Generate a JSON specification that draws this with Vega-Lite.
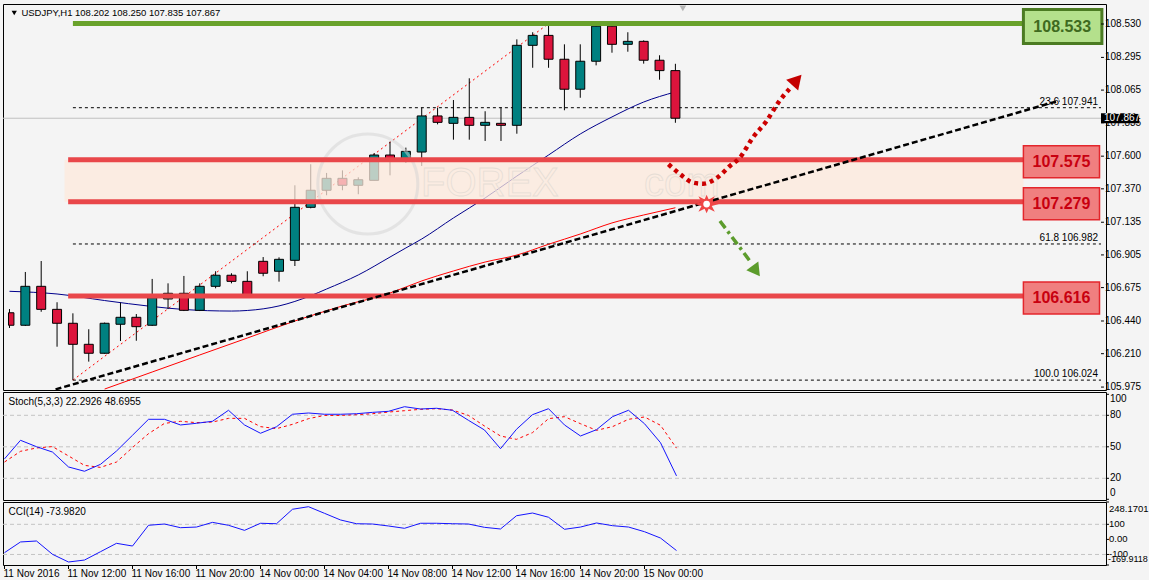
{
  "$schema": "https://vega.github.io/schema/vega-lite/v6.json",
  "background": "#f4f4f4",
  "padding": {"left": 2, "top": 3, "right": 0, "bottom": 0},
  "spacing": 2,
  "bounds": "flush",
  "resolve": {"scale": {"x": "independent", "y": "independent"}},
  "config": {
    "font": "Liberation Sans",
    "view": {"stroke": "#000000", "strokeWidth": 1, "fill": "#f4f4f4"}
  },
  "datasets": {
    "ohlc": [
      {"k":0,"o":106.498,"h":106.524,"l":106.391,"c":106.410},
      {"k":1,"o":106.410,"h":106.785,"l":106.405,"c":106.684},
      {"k":2,"o":106.684,"h":106.862,"l":106.505,"c":106.522},
      {"k":3,"o":106.522,"h":106.572,"l":106.259,"c":106.424},
      {"k":4,"o":106.424,"h":106.494,"l":106.024,"c":106.276},
      {"k":5,"o":106.276,"h":106.382,"l":106.154,"c":106.213},
      {"k":6,"o":106.213,"h":106.429,"l":106.210,"c":106.424},
      {"k":7,"o":106.417,"h":106.569,"l":106.299,"c":106.466},
      {"k":8,"o":106.466,"h":106.489,"l":106.301,"c":106.400},
      {"k":9,"o":106.410,"h":106.736,"l":106.405,"c":106.604},
      {"k":10,"o":106.595,"h":106.705,"l":106.524,"c":106.635},
      {"k":11,"o":106.635,"h":106.757,"l":106.510,"c":106.515},
      {"k":12,"o":106.515,"h":106.705,"l":106.510,"c":106.684},
      {"k":13,"o":106.684,"h":106.790,"l":106.670,"c":106.762},
      {"k":14,"o":106.762,"h":106.776,"l":106.705,"c":106.719},
      {"k":15,"o":106.719,"h":106.790,"l":106.612,"c":106.616},
      {"k":16,"o":106.860,"h":106.890,"l":106.755,"c":106.776},
      {"k":17,"o":106.790,"h":106.888,"l":106.717,"c":106.874},
      {"k":18,"o":106.867,"h":107.395,"l":106.827,"c":107.240},
      {"k":19,"o":107.240,"h":107.543,"l":107.233,"c":107.360},
      {"k":20,"o":107.360,"h":107.482,"l":107.325,"c":107.444},
      {"k":21,"o":107.444,"h":107.500,"l":107.360,"c":107.395},
      {"k":22,"o":107.395,"h":107.451,"l":107.332,"c":107.434},
      {"k":23,"o":107.430,"h":107.622,"l":107.430,"c":107.608},
      {"k":24,"o":107.608,"h":107.702,"l":107.465,"c":107.578},
      {"k":25,"o":107.564,"h":107.660,"l":107.552,"c":107.634},
      {"k":26,"o":107.629,"h":107.941,"l":107.531,"c":107.883},
      {"k":27,"o":107.883,"h":107.941,"l":107.824,"c":107.838},
      {"k":28,"o":107.831,"h":107.995,"l":107.716,"c":107.873},
      {"k":29,"o":107.873,"h":108.148,"l":107.716,"c":107.817},
      {"k":30,"o":107.817,"h":107.916,"l":107.707,"c":107.838},
      {"k":31,"o":107.831,"h":107.944,"l":107.707,"c":107.817},
      {"k":32,"o":107.817,"h":108.422,"l":107.758,"c":108.380},
      {"k":33,"o":108.380,"h":108.472,"l":108.222,"c":108.450},
      {"k":34,"o":108.450,"h":108.533,"l":108.222,"c":108.282},
      {"k":35,"o":108.282,"h":108.387,"l":107.923,"c":108.071},
      {"k":36,"o":108.071,"h":108.387,"l":108.011,"c":108.268},
      {"k":37,"o":108.268,"h":108.525,"l":108.239,"c":108.515},
      {"k":38,"o":108.515,"h":108.525,"l":108.328,"c":108.387},
      {"k":39,"o":108.387,"h":108.472,"l":108.335,"c":108.408},
      {"k":40,"o":108.408,"h":108.415,"l":108.251,"c":108.275},
      {"k":41,"o":108.275,"h":108.310,"l":108.138,"c":108.202},
      {"k":42,"o":108.202,"h":108.250,"l":107.835,"c":107.867}
    ],
    "maBlue": [
      {"k":0,"p":106.649},{"k":3,"p":106.630},{"k":6,"p":106.584},{"k":9,"p":106.542},{"k":11,"p":106.521},
      {"k":14,"p":106.510},{"k":15,"p":106.514},{"k":17,"p":106.546},{"k":19,"p":106.618},{"k":20,"p":106.665},
      {"k":22,"p":106.764},{"k":24,"p":106.890},{"k":25,"p":106.954},{"k":26,"p":107.017},{"k":28,"p":107.165},
      {"k":30,"p":107.306},{"k":32,"p":107.460},{"k":34,"p":107.608},{"k":36,"p":107.756},{"k":38,"p":107.876},
      {"k":40,"p":107.981},{"k":42,"p":108.052}
    ],
    "maRed": [
      {"k":6,"p":105.961},{"k":9,"p":106.081},{"k":12,"p":106.201},{"k":15,"p":106.320},{"k":18,"p":106.440},
      {"k":21,"p":106.546},{"k":24,"p":106.637},{"k":26,"p":106.722},{"k":28,"p":106.792},{"k":30,"p":106.855},
      {"k":32,"p":106.904},{"k":34,"p":106.980},{"k":36,"p":107.052},{"k":38,"p":107.130},{"k":40,"p":107.186},
      {"k":42,"p":107.237}
    ],
    "fib": [
      {"p":107.941,"lab":"23.6   107.941"},
      {"p":106.982,"lab":"61.8   106.982"},
      {"p":106.024,"lab":"100.0   106.024"}
    ],
    "levels": [
      {"p":108.533,"lab":"108.533","kind":"g"},
      {"p":107.575,"lab":"107.575","kind":"r"},
      {"p":107.279,"lab":"107.279","kind":"r"},
      {"p":106.616,"lab":"106.616","kind":"r"}
    ],
    "priceTicks": [
      {"p":105.975,"lab":"105.975"},{"p":106.21,"lab":"106.210"},{"p":106.44,"lab":"106.440"},
      {"p":106.675,"lab":"106.675"},{"p":106.905,"lab":"106.905"},{"p":107.135,"lab":"107.135"},
      {"p":107.37,"lab":"107.370"},{"p":107.6,"lab":"107.600"},{"p":107.835,"lab":"107.835"},
      {"p":108.065,"lab":"108.065"},{"p":108.295,"lab":"108.295"},{"p":108.53,"lab":"108.530"}
    ],
    "stochTicks": [
      {"v":0,"lab":"0"},{"v":20,"lab":"20"},{"v":50,"lab":"50"},{"v":80,"lab":"80"},{"v":100,"lab":"100"}
    ],
    "cciTicks": [
      {"v":248.1701,"lab":"248.1701"},{"v":100,"lab":"100"},{"v":0,"lab":"0.00"},{"v":-100,"lab":"-100"},{"v":-169.9118,"lab":"-169.9118"}
    ],
    "timeTicks": [
      {"k":0,"lab":"11 Nov 2016"},{"k":4,"lab":"11 Nov 12:00"},{"k":8,"lab":"11 Nov 16:00"},
      {"k":12,"lab":"11 Nov 20:00"},{"k":16,"lab":"14 Nov 00:00"},{"k":20,"lab":"14 Nov 04:00"},
      {"k":24,"lab":"14 Nov 08:00"},{"k":28,"lab":"14 Nov 12:00"},{"k":32,"lab":"14 Nov 16:00"},
      {"k":36,"lab":"14 Nov 20:00"},{"k":40,"lab":"15 Nov 00:00"}
    ],
    "arrowRed": [
      {"k":41.56,"p":107.543},{"k":42.31,"p":107.472},{"k":43.13,"p":107.413},{"k":43.75,"p":107.406},
      {"k":44.63,"p":107.448},{"k":45.44,"p":107.531},{"k":46.06,"p":107.589},{"k":46.88,"p":107.730},
      {"k":47.75,"p":107.847},{"k":48.56,"p":107.988},{"k":49.19,"p":108.073}
    ],
    "stoch": [
      {"k":0,"main":38.5,"sig":35.5},{"k":1,"main":56.2,"sig":45.7},{"k":2,"main":50.1,"sig":48.9},
      {"k":3,"main":45,"sig":50.2},{"k":4,"main":30.8,"sig":41.3},{"k":5,"main":26.7,"sig":32.3},
      {"k":6,"main":33.3,"sig":30.4},{"k":7,"main":46,"sig":35.5},{"k":8,"main":61,"sig":49.3},
      {"k":9,"main":76.2,"sig":62.5},{"k":10,"main":76.2,"sig":72.3},{"k":11,"main":70.8,"sig":74.3},
      {"k":12,"main":72.4,"sig":73},{"k":13,"main":74.3,"sig":73.6},{"k":14,"main":84.8,"sig":77.1},
      {"k":15,"main":70.8,"sig":77.1},{"k":16,"main":62.9,"sig":69.2},{"k":17,"main":69.1,"sig":67.3},
      {"k":18,"main":81,"sig":71.4},{"k":19,"main":82.2,"sig":76.8},{"k":20,"main":81,"sig":79.9},
      {"k":21,"main":81,"sig":79.9},{"k":22,"main":81.5,"sig":80.6},{"k":23,"main":82.8,"sig":81.5},
      {"k":24,"main":83.8,"sig":83.1},{"k":25,"main":88.2,"sig":84.4},{"k":26,"main":86,"sig":85.7},
      {"k":27,"main":86.7,"sig":86.3},{"k":28,"main":84.8,"sig":85},{"k":29,"main":75.2,"sig":79.9},
      {"k":30,"main":66,"sig":69.8},{"k":31,"main":48.2,"sig":60.3},{"k":32,"main":66.7,"sig":57.1},
      {"k":33,"main":80.6,"sig":63.5},{"k":34,"main":86.3,"sig":76.8},{"k":35,"main":70.8,"sig":78.7},
      {"k":36,"main":60.3,"sig":72},{"k":37,"main":66.3,"sig":65.7},{"k":38,"main":78.7,"sig":69.2},
      {"k":39,"main":84.8,"sig":76.2},{"k":40,"main":72,"sig":78.4},{"k":41,"main":53.9,"sig":70.5},
      {"k":42,"main":22.3,"sig":48.7}
    ],
    "cci": [
      {"k":0,"v":-88},{"k":1,"v":-17},{"k":2,"v":-10.6},{"k":3,"v":-99},{"k":4,"v":-150},{"k":5,"v":-137},
      {"k":6,"v":-81.6},{"k":7,"v":-26},{"k":8,"v":-44},{"k":9,"v":93.6},{"k":10,"v":102},{"k":11,"v":77.6},
      {"k":12,"v":82},{"k":13,"v":113},{"k":14,"v":93.6},{"k":15,"v":60},{"k":16,"v":107},{"k":17,"v":104},
      {"k":18,"v":200},{"k":19,"v":217},{"k":20,"v":173},{"k":21,"v":129},{"k":22,"v":104},{"k":23,"v":102},
      {"k":24,"v":89},{"k":25,"v":73.6},{"k":26,"v":107},{"k":27,"v":107},{"k":28,"v":104},{"k":29,"v":102},
      {"k":30,"v":80},{"k":31,"v":69},{"k":32,"v":157},{"k":33,"v":175},{"k":34,"v":147},{"k":35,"v":67},
      {"k":36,"v":82},{"k":37,"v":109},{"k":38,"v":91},{"k":39,"v":82},{"k":40,"v":51},{"k":41,"v":9},
      {"k":42,"v":-74}
    ]
  },
  "vconcat": [
    {
      "width": 1103,
      "height": 386,
      "layer": [
        {
          "data": {"values": [{"p": 107.867}]},
          "mark": {"type": "rule", "color": "#c0c0c0", "strokeWidth": 1},
          "encoding": {"y": {"field": "p", "type": "quantitative", "scale": {"domain": [105.9544, 108.6708], "nice": false, "zero": false}, "axis": null}}
        },
        {
          "data": {"name": "fib"},
          "mark": {"type": "rule", "color": "#000000", "strokeWidth": 1, "strokeDash": [3, 3]},
          "encoding": {
            "x": {"datum": 4, "type": "quantitative", "scale": {"domain": [-0.09375, 68.84375], "nice": false, "zero": false}, "axis": null},
            "x2": {"datum": 68.84375},
            "y": {"field": "p", "type": "quantitative", "scale": {"domain": [105.9544, 108.6708], "nice": false, "zero": false}, "axis": null}
          }
        },
        {
          "data": {"values": [{"k": 4, "p": 106.024}, {"k": 34, "p": 108.533}]},
          "mark": {"type": "line", "color": "#ff0000", "strokeWidth": 1, "strokeDash": [2, 3], "clip": true},
          "encoding": {
            "x": {"field": "k", "type": "quantitative", "scale": {"domain": [-0.09375, 68.84375], "nice": false, "zero": false}, "axis": null},
            "y": {"field": "p", "type": "quantitative", "scale": {"domain": [105.9544, 108.6708], "nice": false, "zero": false}, "axis": null}
          }
        },
        {
          "data": {"name": "maRed"},
          "mark": {"type": "line", "color": "#ff0000", "strokeWidth": 1, "interpolate": "monotone", "clip": true},
          "encoding": {
            "x": {"field": "k", "type": "quantitative", "scale": {"domain": [-0.09375, 68.84375], "nice": false, "zero": false}, "axis": null},
            "y": {"field": "p", "type": "quantitative", "scale": {"domain": [105.9544, 108.6708], "nice": false, "zero": false}, "axis": null}
          }
        },
        {
          "data": {"name": "maBlue"},
          "mark": {"type": "line", "color": "#00008b", "strokeWidth": 1, "interpolate": "monotone", "clip": true},
          "encoding": {
            "x": {"field": "k", "type": "quantitative", "scale": {"domain": [-0.09375, 68.84375], "nice": false, "zero": false}, "axis": null},
            "y": {"field": "p", "type": "quantitative", "scale": {"domain": [105.9544, 108.6708], "nice": false, "zero": false}, "axis": null}
          }
        },
        {
          "data": {"name": "ohlc"},
          "mark": {"type": "rule", "color": "#000000", "strokeWidth": 1, "clip": true},
          "encoding": {
            "x": {"field": "k", "type": "quantitative", "scale": {"domain": [-0.09375, 68.84375], "nice": false, "zero": false}, "axis": null},
            "y": {"field": "l", "type": "quantitative", "scale": {"domain": [105.9544, 108.6708], "nice": false, "zero": false}, "axis": null},
            "y2": {"field": "h"}
          }
        },
        {
          "data": {"name": "ohlc"},
          "transform": [{"filter": "datum.k > 0"}],
          "mark": {"type": "bar", "width": 9, "stroke": "#000000", "strokeWidth": 1, "clip": true},
          "encoding": {
            "x": {"field": "k", "type": "quantitative", "scale": {"domain": [-0.09375, 68.84375], "nice": false, "zero": false}, "axis": null},
            "y": {"field": "o", "type": "quantitative", "scale": {"domain": [105.9544, 108.6708], "nice": false, "zero": false}, "axis": null},
            "y2": {"field": "c"},
            "fill": {"condition": {"test": "datum.c >= datum.o", "value": "#008080"}, "value": "#dc143c"}
          }
        },
        {
          "data": {"name": "ohlc"},
          "transform": [{"filter": "datum.k == 0"}],
          "mark": {"type": "rect", "stroke": "#000000", "strokeWidth": 1, "fill": "#dc143c"},
          "encoding": {
            "x": {"datum": -0.0625, "type": "quantitative", "scale": {"domain": [-0.09375, 68.84375], "nice": false, "zero": false}, "axis": null},
            "x2": {"datum": 0.28},
            "y": {"field": "o", "type": "quantitative", "scale": {"domain": [105.9544, 108.6708], "nice": false, "zero": false}, "axis": null},
            "y2": {"field": "c"}
          }
        },
        {
          "data": {"values": [{"lo": 107.279, "hi": 107.575}]},
          "mark": {"type": "rect", "color": "#fde9dc", "opacity": 0.74},
          "encoding": {
            "x": {"datum": 3.47, "type": "quantitative", "scale": {"domain": [-0.09375, 68.84375], "nice": false, "zero": false}, "axis": null},
            "x2": {"datum": 63.95},
            "y": {"field": "lo", "type": "quantitative", "scale": {"domain": [105.9544, 108.6708], "nice": false, "zero": false}, "axis": null},
            "y2": {"field": "hi"}
          }
        },
        {
          "data": {"values": [{"k": 22.6, "p": 107.404}]},
          "mark": {"type": "point", "shape": "circle", "size": 10000, "filled": false, "stroke": "#d4d4d4", "strokeWidth": 3, "opacity": 0.5, "clip": true},
          "encoding": {
            "x": {"field": "k", "type": "quantitative", "scale": {"domain": [-0.09375, 68.84375], "nice": false, "zero": false}, "axis": null},
            "y": {"field": "p", "type": "quantitative", "scale": {"domain": [105.9544, 108.6708], "nice": false, "zero": false}, "axis": null}
          }
        },
        {
          "data": {"values": [{"k": 30.3, "p": 107.407, "t": "FOREX"}, {"k": 42.4, "p": 107.407, "t": "com"}]},
          "mark": {"type": "text", "fontSize": 40, "fill": "transparent", "stroke": "#e6ddd5", "strokeWidth": 0.8, "align": "center", "baseline": "middle"},
          "encoding": {
            "x": {"field": "k", "type": "quantitative", "scale": {"domain": [-0.09375, 68.84375], "nice": false, "zero": false}, "axis": null},
            "y": {"field": "p", "type": "quantitative", "scale": {"domain": [105.9544, 108.6708], "nice": false, "zero": false}, "axis": null},
            "text": {"field": "t"}
          }
        },
        {
          "data": {"name": "levels"},
          "transform": [{"filter": "datum.kind == 'r'"}],
          "mark": {"type": "rule", "color": "#e9474a", "strokeWidth": 5},
          "encoding": {
            "x": {"datum": 3.7, "type": "quantitative", "scale": {"domain": [-0.09375, 68.84375], "nice": false, "zero": false}, "axis": null},
            "x2": {"datum": 63.95},
            "y": {"field": "p", "type": "quantitative", "scale": {"domain": [105.9544, 108.6708], "nice": false, "zero": false}, "axis": null}
          }
        },
        {
          "data": {"name": "levels"},
          "transform": [{"filter": "datum.kind == 'g'"}],
          "mark": {"type": "rule", "color": "#69a22b", "strokeWidth": 5},
          "encoding": {
            "x": {"datum": 4.0, "type": "quantitative", "scale": {"domain": [-0.09375, 68.84375], "nice": false, "zero": false}, "axis": null},
            "x2": {"datum": 63.95},
            "y": {"field": "p", "type": "quantitative", "scale": {"domain": [105.9544, 108.6708], "nice": false, "zero": false}, "axis": null}
          }
        },
        {
          "data": {"values": [{"k": 2.906, "p": 105.959}, {"k": 66.22, "p": 107.991}]},
          "mark": {"type": "line", "color": "#000000", "strokeWidth": 2.5, "strokeDash": [6, 3], "clip": true},
          "encoding": {
            "x": {"field": "k", "type": "quantitative", "scale": {"domain": [-0.09375, 68.84375], "nice": false, "zero": false}, "axis": null},
            "y": {"field": "p", "type": "quantitative", "scale": {"domain": [105.9544, 108.6708], "nice": false, "zero": false}, "axis": null}
          }
        },
        {
          "data": {"name": "arrowRed"},
          "mark": {"type": "line", "color": "#cc0000", "strokeWidth": 4.5, "strokeDash": [4, 4], "interpolate": "monotone"},
          "encoding": {
            "x": {"field": "k", "type": "quantitative", "scale": {"domain": [-0.09375, 68.84375], "nice": false, "zero": false}, "axis": null},
            "y": {"field": "p", "type": "quantitative", "scale": {"domain": [105.9544, 108.6708], "nice": false, "zero": false}, "axis": null}
          }
        },
        {
          "data": {"values": [{"k": 49.66, "p": 108.136}]},
          "mark": {"type": "point", "shape": "triangle-up", "angle": 42, "size": 260, "filled": true, "color": "#c40000", "opacity": 1},
          "encoding": {
            "x": {"field": "k", "type": "quantitative", "scale": {"domain": [-0.09375, 68.84375], "nice": false, "zero": false}, "axis": null},
            "y": {"field": "p", "type": "quantitative", "scale": {"domain": [105.9544, 108.6708], "nice": false, "zero": false}, "axis": null}
          }
        },
        {
          "data": {"values": [{"k": 44.81, "p": 107.144}, {"k": 46.75, "p": 106.855}]},
          "mark": {"type": "line", "color": "#5c9c2c", "strokeWidth": 3.5, "strokeDash": [9, 4, 3, 4]},
          "encoding": {
            "x": {"field": "k", "type": "quantitative", "scale": {"domain": [-0.09375, 68.84375], "nice": false, "zero": false}, "axis": null},
            "y": {"field": "p", "type": "quantitative", "scale": {"domain": [105.9544, 108.6708], "nice": false, "zero": false}, "axis": null}
          }
        },
        {
          "data": {"values": [{"k": 47.09, "p": 106.792}]},
          "mark": {"type": "point", "shape": "triangle-up", "angle": 144, "size": 220, "filled": true, "color": "#5c9c2c", "opacity": 1},
          "encoding": {
            "x": {"field": "k", "type": "quantitative", "scale": {"domain": [-0.09375, 68.84375], "nice": false, "zero": false}, "axis": null},
            "y": {"field": "p", "type": "quantitative", "scale": {"domain": [105.9544, 108.6708], "nice": false, "zero": false}, "axis": null}
          }
        },
        {
          "data": {"values": [{"k": 43.97, "p": 107.263}]},
          "mark": {"type": "point", "shape": "M1.2,0L0.5,0.2L0.8,0.75L0.2,0.45L0,0.9L-0.2,0.45L-0.8,0.75L-0.5,0.2L-1.2,0L-0.5,-0.2L-0.8,-0.75L-0.2,-0.45L0,-0.9L0.2,-0.45L0.8,-0.75L0.5,-0.2Z", "size": 420, "filled": true, "color": "#f04646", "opacity": 1},
          "encoding": {
            "x": {"field": "k", "type": "quantitative", "scale": {"domain": [-0.09375, 68.84375], "nice": false, "zero": false}, "axis": null},
            "y": {"field": "p", "type": "quantitative", "scale": {"domain": [105.9544, 108.6708], "nice": false, "zero": false}, "axis": null}
          }
        },
        {
          "data": {"values": [{"k": 43.97, "p": 107.263}]},
          "mark": {"type": "point", "shape": "circle", "size": 45, "filled": true, "color": "#ffffff", "opacity": 1},
          "encoding": {
            "x": {"field": "k", "type": "quantitative", "scale": {"domain": [-0.09375, 68.84375], "nice": false, "zero": false}, "axis": null},
            "y": {"field": "p", "type": "quantitative", "scale": {"domain": [105.9544, 108.6708], "nice": false, "zero": false}, "axis": null}
          }
        },
        {
          "data": {"name": "levels"},
          "transform": [{"filter": "datum.kind == 'g'"}],
          "mark": {"type": "rect", "height": 34, "yOffset": 3, "fill": "#b4e08c", "stroke": "#4b7b22", "strokeWidth": 3},
          "encoding": {
            "x": {"datum": 63.95, "type": "quantitative", "scale": {"domain": [-0.09375, 68.84375], "nice": false, "zero": false}, "axis": null},
            "x2": {"datum": 68.9},
            "y": {"field": "p", "type": "quantitative", "scale": {"domain": [105.9544, 108.6708], "nice": false, "zero": false}, "axis": null}
          }
        },
        {
          "data": {"name": "levels"},
          "transform": [{"filter": "datum.kind == 'g'"}],
          "mark": {"type": "text", "fontSize": 16, "fontWeight": "bold", "fill": "#3f6a20", "align": "center", "baseline": "middle", "dy": 3},
          "encoding": {
            "x": {"datum": 66.4, "type": "quantitative", "scale": {"domain": [-0.09375, 68.84375], "nice": false, "zero": false}, "axis": null},
            "y": {"field": "p", "type": "quantitative", "scale": {"domain": [105.9544, 108.6708], "nice": false, "zero": false}, "axis": null},
            "text": {"field": "lab"}
          }
        },
        {
          "data": {"name": "levels"},
          "transform": [{"filter": "datum.kind == 'r'"}],
          "mark": {"type": "rect", "height": 32, "yOffset": 2, "fill": "#f07f7f", "stroke": "#e3262c", "strokeWidth": 1.5},
          "encoding": {
            "x": {"datum": 63.95, "type": "quantitative", "scale": {"domain": [-0.09375, 68.84375], "nice": false, "zero": false}, "axis": null},
            "x2": {"datum": 68.75},
            "y": {"field": "p", "type": "quantitative", "scale": {"domain": [105.9544, 108.6708], "nice": false, "zero": false}, "axis": null}
          }
        },
        {
          "data": {"name": "levels"},
          "transform": [{"filter": "datum.kind == 'r'"}],
          "mark": {"type": "text", "fontSize": 16, "fontWeight": "bold", "fill": "#c80010", "align": "center", "baseline": "middle", "dy": 2},
          "encoding": {
            "x": {"datum": 66.35, "type": "quantitative", "scale": {"domain": [-0.09375, 68.84375], "nice": false, "zero": false}, "axis": null},
            "y": {"field": "p", "type": "quantitative", "scale": {"domain": [105.9544, 108.6708], "nice": false, "zero": false}, "axis": null},
            "text": {"field": "lab"}
          }
        },
        {
          "data": {"name": "fib"},
          "mark": {"type": "text", "fontSize": 10, "fill": "#000000", "align": "right", "baseline": "middle", "dx": -3, "dy": -6},
          "encoding": {
            "x": {"datum": 68.84375, "type": "quantitative", "scale": {"domain": [-0.09375, 68.84375], "nice": false, "zero": false}, "axis": null},
            "y": {"field": "p", "type": "quantitative", "scale": {"domain": [105.9544, 108.6708], "nice": false, "zero": false}, "axis": null},
            "text": {"field": "lab"}
          }
        },
        {
          "data": {"values": [{"t": "USDJPY,H1  108.202 108.250 107.835 107.867"}]},
          "mark": {"type": "text", "fontSize": 9.5, "fill": "#000000", "align": "left", "baseline": "middle"},
          "encoding": {
            "x": {"datum": 0.75, "type": "quantitative", "scale": {"domain": [-0.09375, 68.84375], "nice": false, "zero": false}, "axis": null},
            "y": {"datum": 108.610, "type": "quantitative", "scale": {"domain": [105.9544, 108.6708], "nice": false, "zero": false}, "axis": null},
            "text": {"field": "t"}
          }
        },
        {
          "data": {"values": [{"k": 0.3, "p": 108.607}]},
          "mark": {"type": "point", "shape": "triangle-down", "size": 28, "filled": true, "color": "#000000", "opacity": 1},
          "encoding": {
            "x": {"field": "k", "type": "quantitative", "scale": {"domain": [-0.09375, 68.84375], "nice": false, "zero": false}, "axis": null},
            "y": {"field": "p", "type": "quantitative", "scale": {"domain": [105.9544, 108.6708], "nice": false, "zero": false}, "axis": null}
          }
        },
        {
          "data": {"values": [{"k": 42.47, "p": 108.64}]},
          "mark": {"type": "point", "shape": "triangle-down", "size": 45, "filled": true, "color": "#b4b4b4", "opacity": 1},
          "encoding": {
            "x": {"field": "k", "type": "quantitative", "scale": {"domain": [-0.09375, 68.84375], "nice": false, "zero": false}, "axis": null},
            "y": {"field": "p", "type": "quantitative", "scale": {"domain": [105.9544, 108.6708], "nice": false, "zero": false}, "axis": null}
          }
        },
        {
          "data": {"name": "priceTicks"},
          "layer": [
            {
              "mark": {"type": "rule", "color": "#000000", "strokeWidth": 1},
              "encoding": {
                "x": {"datum": 68.84375, "type": "quantitative", "scale": {"domain": [-0.09375, 68.84375], "nice": false, "zero": false}, "axis": null},
                "x2": {"datum": 69.03},
                "y": {"field": "p", "type": "quantitative", "scale": {"domain": [105.9544, 108.6708], "nice": false, "zero": false}, "axis": null}
              }
            },
            {
              "mark": {"type": "text", "fontSize": 10, "fill": "#000000", "align": "left", "baseline": "middle", "dx": 4},
              "encoding": {
                "x": {"datum": 68.84375, "type": "quantitative", "scale": {"domain": [-0.09375, 68.84375], "nice": false, "zero": false}, "axis": null},
                "y": {"field": "p", "type": "quantitative", "scale": {"domain": [105.9544, 108.6708], "nice": false, "zero": false}, "axis": null},
                "text": {"field": "lab"}
              }
            }
          ]
        },
        {
          "data": {"values": [{"p": 107.867, "lab": "107.867"}]},
          "mark": {"type": "rect", "height": 10, "fill": "#000000"},
          "encoding": {
            "x": {"datum": 68.84375, "type": "quantitative", "scale": {"domain": [-0.09375, 68.84375], "nice": false, "zero": false}, "axis": null},
            "x2": {"datum": 71.25},
            "y": {"field": "p", "type": "quantitative", "scale": {"domain": [105.9544, 108.6708], "nice": false, "zero": false}, "axis": null}
          }
        },
        {
          "data": {"values": [{"p": 107.867, "lab": "107.867"}]},
          "mark": {"type": "text", "fontSize": 10, "fill": "#ffffff", "align": "left", "baseline": "middle"},
          "encoding": {
            "x": {"datum": 69.03, "type": "quantitative", "scale": {"domain": [-0.09375, 68.84375], "nice": false, "zero": false}, "axis": null},
            "y": {"field": "p", "type": "quantitative", "scale": {"domain": [105.9544, 108.6708], "nice": false, "zero": false}, "axis": null},
            "text": {"field": "lab"}
          }
        }
      ]
    },
    {
      "width": 1103,
      "height": 108,
      "layer": [
        {
          "data": {"values": [{"v": 20}, {"v": 50}, {"v": 80}]},
          "mark": {"type": "rule", "color": "#c3c3c3", "strokeWidth": 1, "strokeDash": [4, 3]},
          "encoding": {"y": {"field": "v", "type": "quantitative", "scale": {"domain": [-0.67, 102.2], "nice": false, "zero": false}, "axis": null}}
        },
        {
          "data": {"name": "stoch"},
          "mark": {"type": "line", "color": "#ff0000", "strokeWidth": 1, "strokeDash": [3, 3]},
          "encoding": {
            "x": {"field": "k", "type": "quantitative", "scale": {"domain": [-0.09375, 68.84375], "nice": false, "zero": false}, "axis": null},
            "y": {"field": "sig", "type": "quantitative", "scale": {"domain": [-0.67, 102.2], "nice": false, "zero": false}, "axis": null}
          }
        },
        {
          "data": {"name": "stoch"},
          "mark": {"type": "line", "color": "#1414ff", "strokeWidth": 1},
          "encoding": {
            "x": {"field": "k", "type": "quantitative", "scale": {"domain": [-0.09375, 68.84375], "nice": false, "zero": false}, "axis": null},
            "y": {"field": "main", "type": "quantitative", "scale": {"domain": [-0.67, 102.2], "nice": false, "zero": false}, "axis": null}
          }
        },
        {
          "data": {"values": [{"t": "Stoch(5,3,3) 22.2926 48.6955"}]},
          "mark": {"type": "text", "fontSize": 10, "fill": "#000000", "align": "left", "baseline": "middle"},
          "encoding": {
            "x": {"datum": 0.25, "type": "quantitative", "scale": {"domain": [-0.09375, 68.84375], "nice": false, "zero": false}, "axis": null},
            "y": {"datum": 93, "type": "quantitative", "scale": {"domain": [-0.67, 102.2], "nice": false, "zero": false}, "axis": null},
            "text": {"field": "t"}
          }
        },
        {
          "data": {"name": "stochTicks"},
          "layer": [
            {
              "mark": {"type": "rule", "color": "#000000", "strokeWidth": 1},
              "encoding": {
                "x": {"datum": 68.84375, "type": "quantitative", "scale": {"domain": [-0.09375, 68.84375], "nice": false, "zero": false}, "axis": null},
                "x2": {"datum": 69.03},
                "y": {"field": "v", "type": "quantitative", "scale": {"domain": [-0.67, 102.2], "nice": false, "zero": false}, "axis": null}
              }
            },
            {
              "transform": [{"filter": "datum.v > 0 && datum.v < 100"}],
              "mark": {"type": "text", "fontSize": 10, "fill": "#000000", "align": "left", "baseline": "middle", "dx": 4},
              "encoding": {
                "x": {"datum": 68.84375, "type": "quantitative", "scale": {"domain": [-0.09375, 68.84375], "nice": false, "zero": false}, "axis": null},
                "y": {"field": "v", "type": "quantitative", "scale": {"domain": [-0.67, 102.2], "nice": false, "zero": false}, "axis": null},
                "text": {"field": "lab"}
              }
            },
            {
              "transform": [{"filter": "datum.v == 100"}],
              "mark": {"type": "text", "fontSize": 10, "fill": "#000000", "align": "left", "baseline": "top", "dx": 4, "dy": 0},
              "encoding": {
                "x": {"datum": 68.84375, "type": "quantitative", "scale": {"domain": [-0.09375, 68.84375], "nice": false, "zero": false}, "axis": null},
                "y": {"field": "v", "type": "quantitative", "scale": {"domain": [-0.67, 102.2], "nice": false, "zero": false}, "axis": null},
                "text": {"field": "lab"}
              }
            },
            {
              "transform": [{"filter": "datum.v == 0"}],
              "mark": {"type": "text", "fontSize": 10, "fill": "#000000", "align": "left", "baseline": "bottom", "dx": 4, "dy": -1},
              "encoding": {
                "x": {"datum": 68.84375, "type": "quantitative", "scale": {"domain": [-0.09375, 68.84375], "nice": false, "zero": false}, "axis": null},
                "y": {"field": "v", "type": "quantitative", "scale": {"domain": [-0.67, 102.2], "nice": false, "zero": false}, "axis": null},
                "text": {"field": "lab"}
              }
            }
          ]
        }
      ]
    },
    {
      "width": 1103,
      "height": 63,
      "layer": [
        {
          "data": {"values": [{"v": 100}, {"v": -100}]},
          "mark": {"type": "rule", "color": "#c3c3c3", "strokeWidth": 1, "strokeDash": [4, 3]},
          "encoding": {"y": {"field": "v", "type": "quantitative", "scale": {"domain": [-169.9118, 248.1701], "nice": false, "zero": false}, "axis": null}}
        },
        {
          "data": {"name": "cci"},
          "mark": {"type": "line", "color": "#1414ff", "strokeWidth": 1},
          "encoding": {
            "x": {"field": "k", "type": "quantitative", "scale": {"domain": [-0.09375, 68.84375], "nice": false, "zero": false}, "axis": null},
            "y": {"field": "v", "type": "quantitative", "scale": {"domain": [-169.9118, 248.1701], "nice": false, "zero": false}, "axis": null}
          }
        },
        {
          "data": {"values": [{"t": "CCI(14) -73.9820"}]},
          "mark": {"type": "text", "fontSize": 10, "fill": "#000000", "align": "left", "baseline": "middle"},
          "encoding": {
            "x": {"datum": 0.25, "type": "quantitative", "scale": {"domain": [-0.09375, 68.84375], "nice": false, "zero": false}, "axis": null},
            "y": {"datum": 181.8, "type": "quantitative", "scale": {"domain": [-169.9118, 248.1701], "nice": false, "zero": false}, "axis": null},
            "text": {"field": "t"}
          }
        },
        {
          "data": {"name": "cciTicks"},
          "layer": [
            {
              "mark": {"type": "rule", "color": "#000000", "strokeWidth": 1},
              "encoding": {
                "x": {"datum": 68.84375, "type": "quantitative", "scale": {"domain": [-0.09375, 68.84375], "nice": false, "zero": false}, "axis": null},
                "x2": {"datum": 69.03},
                "y": {"field": "v", "type": "quantitative", "scale": {"domain": [-169.9118, 248.1701], "nice": false, "zero": false}, "axis": null}
              }
            },
            {
              "transform": [{"filter": "datum.v >= -100 && datum.v <= 100"}],
              "mark": {"type": "text", "fontSize": 9.5, "fill": "#000000", "align": "left", "baseline": "middle", "dx": 3},
              "encoding": {
                "x": {"datum": 68.84375, "type": "quantitative", "scale": {"domain": [-0.09375, 68.84375], "nice": false, "zero": false}, "axis": null},
                "y": {"field": "v", "type": "quantitative", "scale": {"domain": [-169.9118, 248.1701], "nice": false, "zero": false}, "axis": null},
                "text": {"field": "lab"}
              }
            },
            {
              "transform": [{"filter": "datum.v > 200"}],
              "mark": {"type": "text", "fontSize": 9.5, "fill": "#000000", "align": "left", "baseline": "top", "dx": 3, "dy": 2},
              "encoding": {
                "x": {"datum": 68.84375, "type": "quantitative", "scale": {"domain": [-0.09375, 68.84375], "nice": false, "zero": false}, "axis": null},
                "y": {"field": "v", "type": "quantitative", "scale": {"domain": [-169.9118, 248.1701], "nice": false, "zero": false}, "axis": null},
                "text": {"field": "lab"}
              }
            },
            {
              "transform": [{"filter": "datum.v < -150"}],
              "mark": {"type": "text", "fontSize": 9, "fill": "#000000", "align": "left", "baseline": "bottom", "dx": 2, "dy": -1},
              "encoding": {
                "x": {"datum": 68.84375, "type": "quantitative", "scale": {"domain": [-0.09375, 68.84375], "nice": false, "zero": false}, "axis": null},
                "y": {"field": "v", "type": "quantitative", "scale": {"domain": [-169.9118, 248.1701], "nice": false, "zero": false}, "axis": null},
                "text": {"field": "lab"}
              }
            }
          ]
        },
        {
          "data": {"name": "timeTicks"},
          "layer": [
            {
              "mark": {"type": "rule", "color": "#000000", "strokeWidth": 1},
              "encoding": {
                "x": {"field": "k", "type": "quantitative", "scale": {"domain": [-0.09375, 68.84375], "nice": false, "zero": false}, "axis": null},
                "y": {"datum": -169.9118, "type": "quantitative", "scale": {"domain": [-169.9118, 248.1701], "nice": false, "zero": false}, "axis": null},
                "y2": {"datum": -196.4}
              }
            },
            {
              "mark": {"type": "text", "fontSize": 10, "fill": "#000000", "align": "left", "baseline": "top", "dx": -1, "dy": 4},
              "encoding": {
                "x": {"field": "k", "type": "quantitative", "scale": {"domain": [-0.09375, 68.84375], "nice": false, "zero": false}, "axis": null},
                "y": {"datum": -169.9118, "type": "quantitative", "scale": {"domain": [-169.9118, 248.1701], "nice": false, "zero": false}, "axis": null},
                "text": {"field": "lab"}
              }
            }
          ]
        }
      ]
    }
  ]
}
